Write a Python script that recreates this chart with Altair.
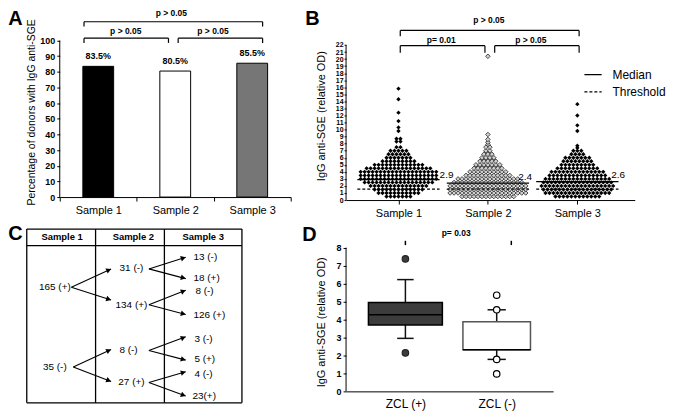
import altair as alt
import pandas as pd

FONT = "Liberation Sans"

# ---------------- Panel A : bar chart ----------------
a_samples = ["Sample 1", "Sample 2", "Sample 3"]
a_values = [83.5, 80.5, 85.5]
a_text = ["83.5%", "80.5%", "85.5%"]
a_fill = ["#000000", "#ffffff", "#767676"]
a_br_x1 = [0.815, 0.815, 2.038]
a_br_x2 = [3.135, 1.912, 3.135]
a_br_y = [112.0, 101.5, 101.5]
a_br_yend = [108.9, 98.5, 98.5]
a_p_x = [1.95, 1.357, 2.49]
a_p_y = [117.3, 105.9, 105.9]
a_p_text = ["p > 0.05", "p > 0.05", "p > 0.05"]

# ---------------- Panel B : dot plot (rows of donors per OD level) ----------------
s1_levels = [0.5, 1.0, 1.5, 2.0, 2.5, 3.0, 3.5, 4.0, 4.5, 5.0, 5.5, 6.0, 6.5, 7.0, 7.5, 8.3, 8.7, 9.8, 10.3, 11.2, 12.4, 14.3, 15.8]
s1_counts = [7, 11, 13, 15, 18, 20, 20, 20, 17, 13, 9, 7, 6, 5, 2, 2, 2, 1, 1, 1, 1, 1, 1]
s2_levels = [0.5, 1.0, 1.5, 2.0, 2.5, 3.0, 3.5, 4.0, 4.5, 5.0, 5.5, 6.0, 6.5, 7.0, 7.5, 7.9, 8.2, 8.6, 9.3, 20.4]
s2_counts = [14, 20, 20, 20, 18, 16, 12, 10, 8, 7, 5, 4, 3, 2, 2, 1, 1, 1, 1, 1]
s3_levels = [0.5, 1.0, 1.5, 2.0, 2.5, 3.0, 3.5, 4.0, 4.5, 5.0, 5.5, 6.0, 6.5, 7.0, 7.4, 7.7, 9.8, 10.6, 12.0, 13.6]
s3_counts = [12, 17, 18, 19, 18, 17, 15, 14, 11, 9, 8, 7, 4, 3, 1, 1, 1, 1, 1, 1]
b_median = [2.9, 2.4, 2.6]
b_threshold = [1.55, 1.55, 1.55]
b_med_lab = ["2.9", "2.4", "2.6"]
b_med_lab_x = [1.46, 2.34, 3.38]
b_med_lab_y = [3.6, 3.3, 3.55]
b_br_x1 = [1.02, 1.02, 2.076]
b_br_x2 = [3.02, 1.967, 3.02]
b_br_y = [24.07, 21.9, 21.9]
b_br_yend = [23.25, 20.9, 20.9]
b_p_x = [2.01, 1.478, 2.48]
b_p_y = [25.6, 22.7, 22.7]
b_p_text = ["p > 0.05", "p= 0.01", "p > 0.05"]

# ---------------- Panel C : flow table ----------------
c_col_lines = [0, 71, 142, 222]
c_row_lines = [0, 17, 179]
c_head = ["Sample 1", "Sample 2", "Sample 3"]
c_head_u = [36.5, 110, 182]
c_mid_text = ["165 (+)", "35 (-)", "31 (-)", "134 (+)", "8 (-)", "27 (+)"]
c_mid_u = [29, 29, 108, 108, 105, 108]
c_mid_v = [60, 142, 40, 78, 125, 158]
c_right_text = ["13 (-)", "18 (+)", "8 (-)", "126 (+)", "3 (-)", "5 (+)", "4 (-)", "23(+)"]
c_right_u = [172, 172, 174, 172, 173, 173, 173, 171]
c_right_v = [29, 50, 64, 89, 113, 134, 149, 172]
c_arr_u1 = [46, 46, 126, 126, 126, 126, 48, 48, 126, 126, 126, 126]
c_arr_v1 = [60, 60, 41, 41, 78, 78, 142, 142, 125, 125, 158, 158]
c_arr_u2 = [87, 87, 164, 164, 164, 164, 87, 87, 164, 164, 164, 164]
c_arr_v2 = [41, 73, 29, 51, 63, 88, 124, 157, 111, 135, 147, 172]

# ---------------- Panel D : box plot ----------------
d_pos = [1, 2]
d_q1 = [3.69, 2.32]
d_q3 = [4.94, 3.87]
d_med = [4.27, 2.32]
d_lo = [2.95, 1.78]
d_hi = [6.22, 4.54]
d_half = [0.405, 0.37]
d_cap = [0.09, 0.10]
d_box_fill = ["#3c3c3c", "#ffffff"]
d_box_stroke = ["#000000", "#555555"]
d_out_pos = [1, 1, 2, 2, 2, 2]
d_out_val = [7.37, 2.14, 5.35, 0.97, 4.54, 1.78]
d_out_fill = ["#3c3c3c", "#3c3c3c", "#ffffff", "#ffffff", "#ffffff", "#ffffff"]
d_out_stroke = ["#222222", "#222222", "#000000", "#000000", "#000000", "#000000"]
d_p_x = [1.556]
d_p_y = [8.81]
d_p_text = ["p= 0.03"]
d_tick_x = [1.0, 2.16]

# ---------------- layout ----------------
A_W, A_H = 232, 189
A_YMAX = 120.2
B_W, B_H = 290, 192
B_YMAX = 27.12
B_XDOM = [0.414, 3.642]
C_W, C_H = 183, 174.5
C_XDOM = [34.05, 222]
C_YDOM = [0, 179]
D_W, D_H = 208, 163
D_YMAX = 9.03
D_XDOM = [0.35, 2.618]


def letter(t, x, y):
    return alt.Chart(pd.DataFrame({"t": [t]})).mark_text(
        align="left", baseline="top", fontSize=20, fontWeight="bold", color="black"
    ).encode(text="t:N", x=alt.value(x), y=alt.value(y))


# ===== A =====
def yA(f):
    return alt.Y(f, type="quantitative",
                 scale=alt.Scale(domain=[0, A_YMAX], nice=False, zero=False),
                 axis=alt.Axis(values=list(range(0, 101, 10)),
                               title="Percentage of donors with IgG anti-SGE",
                               titleFontSize=10.5, titleFontWeight="normal",
                               titleX=-28.3, titleY=103.4, titleAngle=270,
                               titleAlign="center", titleBaseline="middle",
                               labelFontSize=9, labelFontWeight="bold",
                               tickSize=3, labelPadding=2, domain=False, grid=False))


qA = alt.Scale(domain=[0.5, 3.5], nice=False, zero=False)
dfA = pd.DataFrame({"sample": a_samples, "value": a_values, "label": a_text, "fill": a_fill})
xA_axis = alt.Axis(title=None, tickBand="extent", labelAngle=0, labelFontSize=11,
                   tickSize=4, labelPadding=4, grid=False)
bandA = alt.Scale(paddingInner=0, paddingOuter=0)
barsA = alt.Chart(dfA).mark_bar(width={"band": 0.4}, stroke="black", strokeWidth=1).encode(
    x=alt.X("sample:N", sort=a_samples, scale=bandA, axis=xA_axis),
    y=yA("value"),
    fill=alt.Fill("fill:N", scale=None),
)
labA = alt.Chart(dfA).mark_text(dy=-10, fontSize=9, fontWeight="bold", color="black").encode(
    x=alt.X("sample:N", sort=a_samples, scale=bandA, axis=None),
    y=yA("value"), text="label:N",
)
dfAbr = pd.DataFrame({"x1": a_br_x1, "x2": a_br_x2, "y": a_br_y})
brA_h = alt.Chart(dfAbr).mark_rule(color="black", strokeWidth=1.2).encode(
    x=alt.X("x1:Q", scale=qA, axis=None), x2="x2:Q", y=yA("y"))
dfAdrop = pd.DataFrame({"x": a_br_x1 + a_br_x2, "y": a_br_y + a_br_y, "ye": a_br_yend + a_br_yend})
brA_v = alt.Chart(dfAdrop).mark_rule(color="black", strokeWidth=1.2).encode(
    x=alt.X("x:Q", scale=qA, axis=None), y=yA("y"), y2="ye:Q")
dfAp = pd.DataFrame({"x": a_p_x, "y": a_p_y, "t": a_p_text})
pA = alt.Chart(dfAp).mark_text(fontSize=8.5, fontWeight="bold", color="black").encode(
    x=alt.X("x:Q", scale=qA, axis=None), y=yA("y"), text="t:N")
axA = alt.Chart(pd.DataFrame({"y0": [0], "y1": [100]})).mark_rule(color="black").encode(
    x=alt.value(0), y=yA("y0"), y2="y1:Q")
chartA = alt.layer(barsA, labA, brA_h, brA_v, pA, axA, letter("A", -51.7, 0)).resolve_scale(
    x="independent").properties(width=A_W, height=A_H)


# ===== B =====
def xB(f):
    return alt.X(f, type="quantitative",
                 scale=alt.Scale(domain=B_XDOM, nice=False, zero=False),
                 axis=alt.Axis(values=[1, 2, 3], labelExpr="'Sample ' + datum.value", title=None,
                               labelFontSize=11, tickSize=4, labelPadding=4, grid=False))


def yB(f):
    return alt.Y(f, type="quantitative",
                 scale=alt.Scale(domain=[0, B_YMAX], nice=False, zero=False),
                 axis=alt.Axis(values=list(range(0, 23)), title="IgG anti-SGE (relative OD)",
                               titleFontSize=11, titleFontWeight="normal",
                               titleX=-24.4, titleY=107.2, titleAngle=270,
                               titleAlign="center", titleBaseline="middle",
                               labelFontSize=7, labelFontWeight="bold", labelPadding=1,
                               tickSize=2, labelOverlap=False, domain=False, grid=False))


rows = []
for s, lv, ct in ((1, s1_levels, s1_counts), (2, s2_levels, s2_counts), (3, s3_levels, s3_counts)):
    for l, c in zip(lv, ct):
        rows.append({"s": s, "level": l, "n": c})
dfB = pd.DataFrame(rows)
ptsBase = alt.Chart(dfB).transform_calculate(
    idx="sequence(0, datum.n)"
).transform_flatten(["idx"]).transform_calculate(
    px="datum.s + (datum.idx - (datum.n - 1) / 2) * 0.0445"
)
ptsDark = ptsBase.transform_filter("datum.s != 2").mark_point(
    shape="diamond", filled=True, color="black", size=19, opacity=1
).encode(x=xB("px"), y=yB("level"))
ptsOpen = ptsBase.transform_filter("datum.s == 2").mark_point(
    shape="diamond", filled=True, fill="#cfcfcf", stroke="#222222", strokeWidth=0.8, size=21, opacity=1
).encode(x=xB("px"), y=yB("level"))

dfBl = pd.DataFrame({
    "s": [1, 2, 3, 1, 2, 3],
    "value": b_median + b_threshold,
    "kind": ["Median"] * 3 + ["Threshold"] * 3,
})
linesB = alt.Chart(dfBl).transform_calculate(
    xa="datum.s - 0.46", xb="datum.s + 0.46"
).mark_rule(color="black", strokeWidth=1.2).encode(
    x=xB("xa"), x2="xb:Q", y=yB("value"),
    strokeDash=alt.StrokeDash(
        "kind:N",
        scale=alt.Scale(domain=["Median", "Threshold"], range=[[1, 0], [3, 2]]),
        legend=alt.Legend(title=None, orient="none", legendX=238.6, legendY=56.6,
                          symbolType="stroke", symbolSize=300, symbolStrokeColor="black",
                          symbolStrokeWidth=1.3, labelFontSize=12, labelOffset=10,
                          rowPadding=1.2, padding=0, labelColor="black"),
    ),
)
dfBml = pd.DataFrame({"x": b_med_lab_x, "y": b_med_lab_y, "t": b_med_lab})
medLabB = alt.Chart(dfBml).mark_text(fontSize=10, color="black", align="left").encode(
    x=xB("x"), y=yB("y"), text="t:N")
dfBbr = pd.DataFrame({"x1": b_br_x1, "x2": b_br_x2, "y": b_br_y})
brB_h = alt.Chart(dfBbr).mark_rule(color="black", strokeWidth=1.2).encode(
    x=xB("x1"), x2="x2:Q", y=yB("y"))
dfBdrop = pd.DataFrame({"x": b_br_x1 + b_br_x2, "y": b_br_y + b_br_y, "ye": b_br_yend + b_br_yend})
brB_v = alt.Chart(dfBdrop).mark_rule(color="black", strokeWidth=1.2).encode(
    x=xB("x"), y=yB("y"), y2="ye:Q")
dfBp = pd.DataFrame({"x": b_p_x, "y": b_p_y, "t": b_p_text})
pB = alt.Chart(dfBp).mark_text(fontSize=8.5, fontWeight="bold", color="black").encode(
    x=xB("x"), y=yB("y"), text="t:N")
axB = alt.Chart(pd.DataFrame({"y0": [0], "y1": [22]})).mark_rule(color="black").encode(
    x=alt.value(0), y=yB("y0"), y2="y1:Q")
chartB = alt.layer(ptsDark, ptsOpen, linesB, medLabB, brB_h, brB_v, pB, axB,
                   letter("B", -40.9, 0)).properties(width=B_W, height=B_H)


# ===== C =====
def xC(f):
    return alt.X(f, type="quantitative", scale=alt.Scale(domain=C_XDOM, nice=False, zero=False), axis=None)


def yC(f):
    return alt.Y(f, type="quantitative",
                 scale=alt.Scale(domain=C_YDOM, nice=False, zero=False, reverse=True), axis=None)


dfCv = pd.DataFrame({"u": c_col_lines, "v0": [c_row_lines[0]] * 4, "v1": [c_row_lines[-1]] * 4})
dfCh = pd.DataFrame({"v": c_row_lines, "u0": [c_col_lines[0]] * 3, "u1": [c_col_lines[-1]] * 3})
vlines = alt.Chart(dfCv).mark_rule(color="black", strokeWidth=1.3).encode(
    x=xC("u"), y=yC("v0"), y2="v1:Q")
hlines = alt.Chart(dfCh).mark_rule(color="black", strokeWidth=1.3).encode(
    x=xC("u0"), x2="u1:Q", y=yC("v"))
heads = alt.Chart(pd.DataFrame({"u": c_head_u, "v": [8.5] * 3, "t": c_head})).mark_text(
    fontSize=9.5, fontWeight="bold", color="black").encode(x=xC("u"), y=yC("v"), text="t:N")
midT = alt.Chart(pd.DataFrame({"u": c_mid_u, "v": c_mid_v, "t": c_mid_text})).mark_text(
    fontSize=10, color="black").encode(x=xC("u"), y=yC("v"), text="t:N")
rightT = alt.Chart(pd.DataFrame({"u": c_right_u, "v": c_right_v, "t": c_right_text})).mark_text(
    fontSize=10, color="black", align="left").encode(x=xC("u"), y=yC("v"), text="t:N")
dfArr = pd.DataFrame({"u1": c_arr_u1, "v1": c_arr_v1, "u2": c_arr_u2, "v2": c_arr_v2})
arrLines = alt.Chart(dfArr).mark_rule(color="black", strokeWidth=1.1).encode(
    x=xC("u1"), y=yC("v1"), x2="u2:Q", y2="v2:Q")
arrHeads = alt.Chart(dfArr).transform_calculate(
    th="atan2(datum.v2 - datum.v1, datum.u2 - datum.u1)"
).transform_calculate(
    ang="(datum.th * 180 / PI + 360) % 360",
    hx="datum.u2 - 2.6 * cos(datum.th)",
    hy="datum.v2 - 2.6 * sin(datum.th)",
).mark_point(shape="triangle-right", filled=True, color="black", size=32, opacity=1).encode(
    x=xC("hx"), y=yC("hy"), angle=alt.Angle("ang:Q", scale=None))
chartC = alt.layer(vlines, hlines, heads, midT, rightT, arrLines, arrHeads,
                   letter("C", -51.7, -5.4)).properties(width=C_W, height=C_H)


# ===== D =====
def xD(f):
    return alt.X(f, type="quantitative", scale=alt.Scale(domain=D_XDOM, nice=False, zero=False),
                 axis=alt.Axis(values=[1, 2],
                               labelExpr="datum.value == 1 ? 'ZCL (+)' : 'ZCL (-)'",
                               title=None, labelFontSize=12, tickSize=0, labelPadding=7, grid=False))


def yD(f):
    return alt.Y(f, type="quantitative", scale=alt.Scale(domain=[0, D_YMAX], nice=False, zero=False),
                 axis=alt.Axis(values=list(range(0, 9)), title="IgG anti-SGE (relative OD)",
                               titleFontSize=11, titleFontWeight="normal",
                               titleX=-24.4, titleY=93.1, titleAngle=270,
                               titleAlign="center", titleBaseline="middle",
                               labelFontSize=9, labelFontWeight="bold", labelPadding=2,
                               tickSize=3, domain=False, grid=False))


dfD = pd.DataFrame({"pos": d_pos, "q1": d_q1, "q3": d_q3, "med": d_med, "lo": d_lo, "hi": d_hi,
                    "half": d_half, "cap": d_cap, "fill": d_box_fill, "stroke": d_box_stroke})
baseD = alt.Chart(dfD).transform_calculate(
    bx1="datum.pos - datum.half", bx2="datum.pos + datum.half",
    cx1="datum.pos - datum.cap", cx2="datum.pos + datum.cap",
)
whiskHi = baseD.mark_rule(color="#111111", strokeWidth=1.5).encode(x=xD("pos"), y=yD("q3"), y2="hi:Q")
whiskLo = baseD.mark_rule(color="#111111", strokeWidth=1.5).encode(x=xD("pos"), y=yD("lo"), y2="q1:Q")
capHi = baseD.mark_rule(color="#111111", strokeWidth=1.5).encode(x=xD("cx1"), x2="cx2:Q", y=yD("hi"))
capLo = baseD.mark_rule(color="#111111", strokeWidth=1.5).encode(x=xD("cx1"), x2="cx2:Q", y=yD("lo"))
boxD = baseD.mark_rect(strokeWidth=1.5).encode(
    x=xD("bx1"), x2="bx2:Q", y=yD("q1"), y2="q3:Q",
    fill=alt.Fill("fill:N", scale=None), stroke=alt.Stroke("stroke:N", scale=None))
medD = baseD.mark_rule(color="#000000", strokeWidth=1.5).encode(x=xD("bx1"), x2="bx2:Q", y=yD("med"))
dfDo = pd.DataFrame({"pos": d_out_pos, "val": d_out_val, "fill": d_out_fill, "stroke": d_out_stroke})
outD = alt.Chart(dfDo).mark_point(shape="circle", filled=True, size=42, strokeWidth=1.2, opacity=1).encode(
    x=xD("pos"), y=yD("val"), fill=alt.Fill("fill:N", scale=None), stroke=alt.Stroke("stroke:N", scale=None))
pD = alt.Chart(pd.DataFrame({"x": d_p_x, "y": d_p_y, "t": d_p_text})).mark_text(
    fontSize=8.5, fontWeight="bold", color="black").encode(x=xD("x"), y=yD("y"), text="t:N")
tickD = alt.Chart(pd.DataFrame({"x": d_tick_x, "y0": [8.14, 8.14], "y1": [8.38, 8.38]})).mark_rule(
    color="black", strokeWidth=1.5).encode(x=xD("x"), y=yD("y0"), y2="y1:Q")
axD = alt.Chart(pd.DataFrame({"y0": [0], "y1": [8]})).mark_rule(color="black").encode(
    x=alt.value(0), y=yD("y0"), y2="y1:Q")
chartD = alt.layer(whiskHi, whiskLo, capHi, capLo, boxD, medD, outD, pD, tickD, axD,
                   letter("D", -43.9, -4.5)).properties(width=D_W, height=D_H)

chart = alt.concat(
    chartA, chartB, chartC, chartD,
    columns=2, bounds="flush", spacing={"row": 29.2, "column": 55.6},
).resolve_scale(strokeDash="independent").properties(padding=0).configure(
    font=FONT
).configure_view(stroke=None).configure_axis(
    labelColor="black", titleColor="black", domainColor="black", tickColor="black",
    labelFont=FONT, titleFont=FONT, domainWidth=1, tickWidth=1
)

chart.save("out.html", embed_options={"renderer": "svg", "actions": False})
